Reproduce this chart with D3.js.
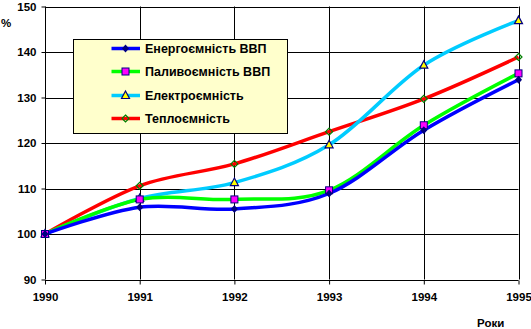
<!DOCTYPE html>
<html><head><meta charset="utf-8">
<script src="https://cdn.jsdelivr.net/npm/d3@7"></script>
<style>body{margin:0;background:#fff}svg{display:block}text{font-family:"Liberation Sans",Arial,sans-serif;font-weight:bold}</style>
</head><body>
<svg id="c" width="531" height="329"></svg>
<script>
const years = [1990, 1991, 1992, 1993, 1994, 1995];
const yTicks = [90, 100, 110, 120, 130, 140, 150];
const seriesNames = ["Енергоємність ВВП", "Паливоємність ВВП", "Електроємність", "Теплоємність"];
const energy = [100, 105.9, 105.5, 108.9, 122.8, 133.9];
const fuel = [100, 107.6, 107.6, 109.6, 123.9, 135.3];
const electro = [100, 107.8, 111.3, 119.6, 137.1, 146.9];
const heat = [100, 110.6, 115.4, 122.5, 129.7, 138.9];
const lineColors = ["#0000ff", "#00ff00", "#00ccff", "#ff0000"];

const svg = d3.select("#c");
const x = d3.scaleLinear().domain([1990, 1995]).range([45, 518.5]);
const y = d3.scaleLinear().domain([90, 150]).range([279.5, 6.5]);
const FONT = '"Liberation Sans",Arial,sans-serif';

const g = svg.append("g");
g.selectAll(".h").data(yTicks).join("line")
  .attr("x1", x(1990)).attr("x2", x(1995))
  .attr("y1", d => Math.round(y(d)) + 0.5).attr("y2", d => Math.round(y(d)) + 0.5)
  .attr("stroke", "#000").attr("stroke-width", 1);
g.selectAll(".v").data(years).join("line")
  .attr("x1", d => Math.round(x(d)) + 0.5).attr("x2", d => Math.round(x(d)) + 0.5)
  .attr("y1", y(150)).attr("y2", y(90))
  .attr("stroke", "#000").attr("stroke-width", 1);

const yAxis = d3.axisLeft(y).tickValues(yTicks).tickSize(4).tickPadding(5).tickFormat(d3.format("d"));
const ya = svg.append("g").attr("transform", `translate(${Math.round(x(1990)) + 0.5},0)`).call(yAxis);
ya.select(".domain").remove();
ya.selectAll("text").attr("font-size", 11.5).attr("font-family", FONT).attr("font-weight", "bold").attr("fill", "#000");
ya.selectAll("line").attr("stroke", "#000");

const xAxis = d3.axisBottom(x).tickValues(years).tickSize(4).tickPadding(8).tickFormat(d3.format("d"));
const xa = svg.append("g").attr("transform", `translate(0,${Math.round(y(90)) + 0.5})`).call(xAxis);
xa.select(".domain").remove();
xa.selectAll("text").attr("font-size", 11.5).attr("font-family", FONT).attr("font-weight", "bold").attr("fill", "#000");
xa.selectAll("line").attr("stroke", "#000");

svg.append("text").attr("x", 1).attr("y", 27).attr("font-size", 11.5).text("%");
svg.append("text").attr("x", 477).attr("y", 327).attr("font-size", 11.5).text("Роки");

const allSeries = [energy, fuel, electro, heat];
const line = d3.line().x((d, i) => x(years[i])).y(d => y(d)).curve(d3.curveCatmullRom.alpha(0));
const order = [3, 2, 1, 0];
order.forEach(k => {
  svg.append("path").attr("d", line(allSeries[k])).attr("fill", "none")
    .attr("stroke", lineColors[k]).attr("stroke-width", 3.5);
});

function marker(sel, k, cx, cy) {
  if (k === 0) {
    sel.append("path").attr("d", `M${cx},${cy-4}L${cx+3.5},${cy}L${cx},${cy+4}L${cx-3.5},${cy}Z`).attr("fill", "#000080");
  } else if (k === 1) {
    sel.append("rect").attr("x", cx-3.5).attr("y", cy-3.5).attr("width", 7).attr("height", 7)
      .attr("fill", "#ff00ff").attr("stroke", "#000080").attr("stroke-width", 1);
  } else if (k === 2) {
    sel.append("path").attr("d", `M${cx},${cy-4.5}L${cx+4},${cy+3}L${cx-4},${cy+3}Z`)
      .attr("fill", "#ffff00").attr("stroke", "#000080").attr("stroke-width", 1.2);
  } else {
    sel.append("path").attr("d", `M${cx},${cy-3.5}L${cx+3.5},${cy}L${cx},${cy+3.5}L${cx-3.5},${cy}Z`)
      .attr("fill", "none").attr("stroke", "#008000").attr("stroke-width", 1.2);
  }
}
order.forEach(k => {
  const mg = svg.append("g");
  allSeries[k].forEach((v, i) => marker(mg, k, x(years[i]), y(v)));
});

const lg = svg.append("g");
lg.append("rect").attr("x", 73.5).attr("y", 39.5).attr("width", 214).attr("height", 94)
  .attr("fill", "#ffffcc").attr("stroke", "#000").attr("stroke-width", 1);
const rowY = [48.5, 71.5, 95.5, 118.5];
seriesNames.forEach((name, k) => {
  lg.append("line").attr("x1", 111.5).attr("x2", 140).attr("y1", rowY[k]).attr("y2", rowY[k])
    .attr("stroke", lineColors[k]).attr("stroke-width", 3.5);
  marker(lg, k, 125.5, rowY[k]);
  lg.append("text").attr("x", 145).attr("y", rowY[k] + 4.5).attr("font-size", 12.5).text(name);
});
</script>
</body></html>
